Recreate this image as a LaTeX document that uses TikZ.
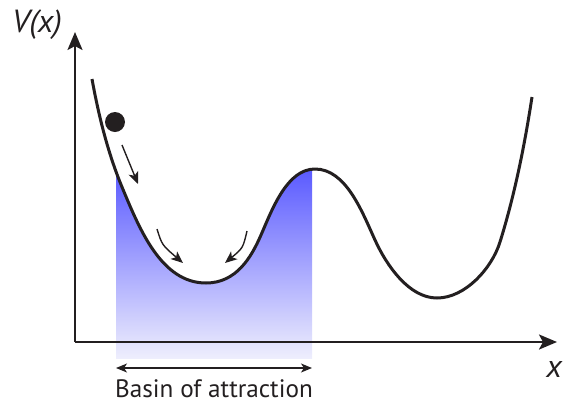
\documentclass[tikz,border=0pt]{standalone}
\usepackage{fontspec}
\setmainfont{PT Sans}
\usetikzlibrary{arrows.meta}
\definecolor{cInk}{HTML}{231F20}
\definecolor{cBasinTop}{HTML}{5A5AFF}
\definecolor{cBasinBot}{HTML}{EEEEFD}
\tikzset{
  axis/.style={draw=cInk, line width=1.25pt, -{Stealth[length=9pt, width=7.5pt, inset=2pt]}},
  pot/.style={draw=cInk, line width=1.5pt},
  flow/.style={draw=cInk, line width=0.7pt, -{Stealth[length=6pt, width=5pt, inset=1.5pt]}},
  basinar/.style={draw=cInk, line width=0.7pt, {Stealth[length=5.5pt, width=4.5pt, inset=1.5pt]}-{Stealth[length=5.5pt, width=4.5pt, inset=1.5pt]}},
  ball/.style={circle, fill=cInk, inner sep=0pt, minimum size=10pt},
  lbl/.style={text=cInk, inner sep=1pt},
}
% double-well potential V(x)
\newcommand{\potpath}{(92,79) .. controls (98.6,115.4) and (107.8,152.8) .. (122,187)
  .. controls (139.3,228.5) and (161,283) .. (206,283)
  .. controls (236,283) and (251,258) .. (261,235)
  .. controls (272.2,209.3) and (287,169) .. (315,169)
  .. controls (346,169) and (362.1,211.8) .. (375,240)
  .. controls (386.6,265.5) and (409,298) .. (437,298)
  .. controls (465,298) and (491.7,268.7) .. (500,242)
  .. controls (514.6,195.2) and (524.6,145.4) .. (532,97)}

\begin{document}
\begin{tikzpicture}[x=0.5pt, y=-0.5pt]
    \useasboundingbox (0,0) rectangle (563,403);

    % --- basin shading ---
    \begin{scope}
      \clip \potpath -- (532,400) -- (92,400) -- cycle;
      \shade[top color=cBasinTop, bottom color=cBasinBot] (116,169) rectangle (312,358);
    \end{scope}

    % --- axes ---
    \coordinate (O)    at (75,342);
    \coordinate (ytip) at (75,32);
    \coordinate (xtip) at (557,342);
    \draw[axis] (O) -- (ytip);
    \draw[axis] (O) -- (xtip);
    \node[lbl, font=\itshape\fontsize{16}{18}\selectfont] (vlab) at (37,25) {V(x)};
    \node[lbl, font=\itshape\fontsize{16}{18}\selectfont] (xlab) at (554,369) {x};

    % --- potential ---
    \draw[pot] \potpath;
    \node[ball] (ball) at (115,122) {};

    % --- flow arrows ---
    \coordinate (f1a) at (122,145);
    \coordinate (f1b) at (138,184);
    \coordinate (f2a) at (157,229);
    \coordinate (f2b) at (183,263);
    \coordinate (f3a) at (247,231);
    \coordinate (f3b) at (225,263);
    \draw[flow] (f1a) -- (f1b);
    \draw[flow] (f2a) .. controls (162,245) .. (f2b);
    \draw[flow] (f3a) .. controls (243,248) .. (f3b);

    % --- basin ---
    \coordinate (bl) at (116,368);
    \coordinate (br) at (312,368);
    \draw[basinar] (bl) -- (br);
    \node[lbl, font=\fontsize{12.6}{14}\selectfont] (basin) at (214,389) {Basin of attraction};
\end{tikzpicture}
\end{document}
